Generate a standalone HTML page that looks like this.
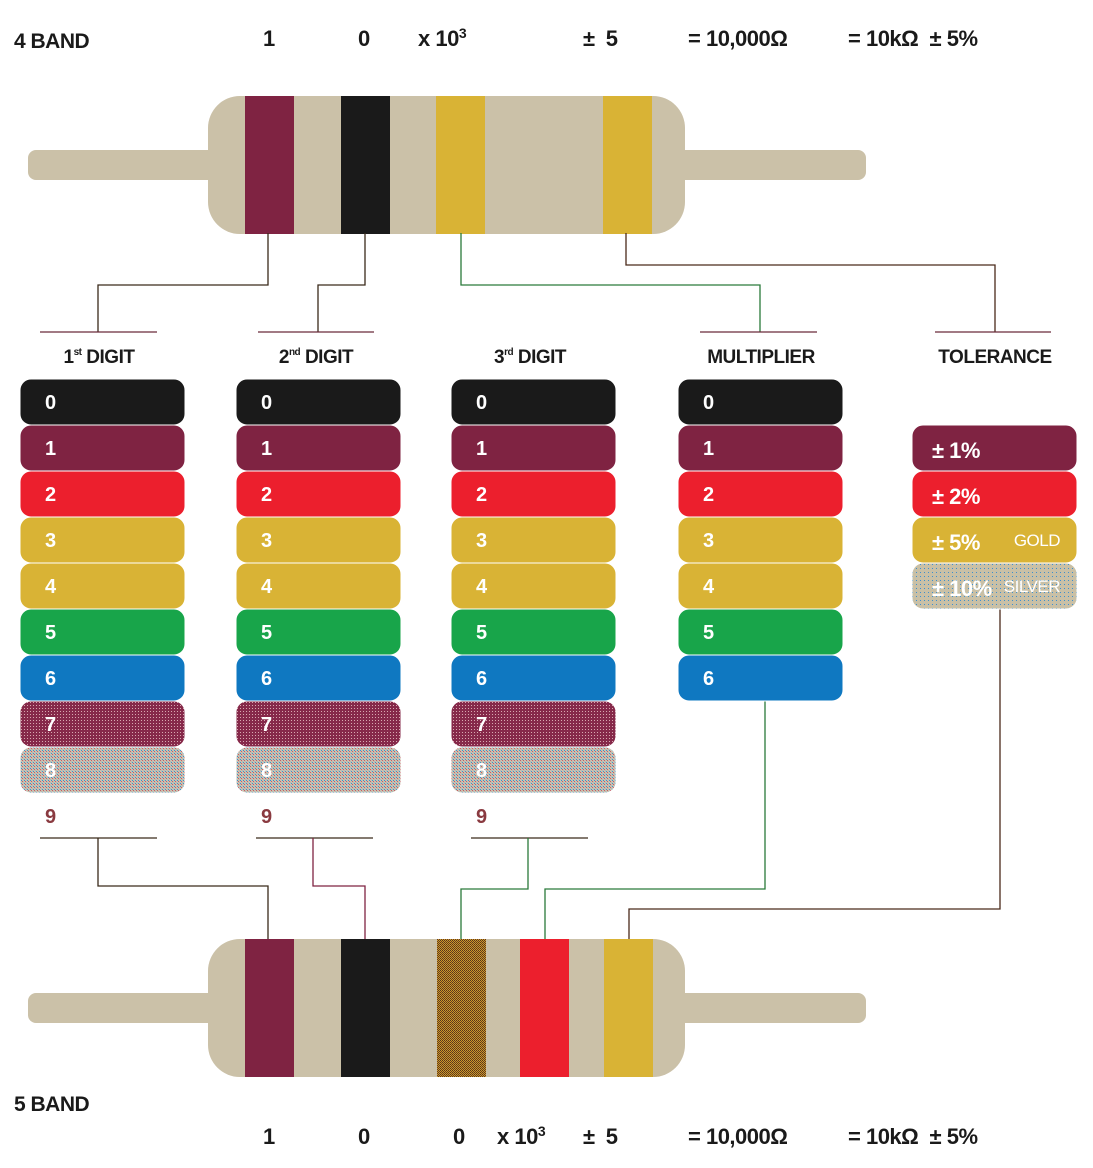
<!DOCTYPE html>
<html><head><meta charset="utf-8">
<style>
html,body{margin:0;padding:0;background:#fff;}
body{width:1093px;height:1168px;overflow:hidden;position:relative;font-family:"Liberation Sans",sans-serif;}
svg{position:absolute;left:0;top:0;}
text{font-family:"Liberation Sans",sans-serif;font-weight:bold;}
text.thin{font-weight:normal;}
</style></head>
<body>
<svg id="s" width="1093" height="1168" viewBox="0 0 1093 1168">
<defs>
<pattern id="violet" width="3" height="3" patternUnits="userSpaceOnUse"><rect width="3" height="3" fill="#86294a"/><rect width="1" height="1" fill="#d8a8b0"/></pattern>
<pattern id="grey" width="3" height="3" patternUnits="userSpaceOnUse"><rect width="3" height="3" fill="#cbc3ad"/><rect width="1" height="1" fill="#3c8fd0"/><rect x="1" y="1" width="1" height="1" fill="#c45a6a"/><rect x="2" y="2" width="1" height="1" fill="#a9b4c0"/></pattern>
<pattern id="silver" width="4" height="4" patternUnits="userSpaceOnUse"><rect width="4" height="4" fill="#c9c0a6"/><rect width="1" height="1" fill="#3c8fd0"/></pattern>
<pattern id="checker" width="2" height="2" patternUnits="userSpaceOnUse"><rect width="2" height="2" fill="#c99a2a"/><rect width="1" height="1" fill="#5a3318"/><rect x="1" y="1" width="1" height="1" fill="#6a3a20"/></pattern>
</defs>
<g id="top"></g>
</svg>
<script>
const digitLabels=["0","1","2","3","4","5","6","7","8"];
const digitColors=["#1a1a1a","#7f2342","#ec1f2d","#d9b335","#d9b335","#18a54a","#0f78c1","url(#violet)","url(#grey)"];
const multLabels=["0","1","2","3","4","5","6"];
const tolLabels=["± 1%","± 2%","± 5%","± 10%"];
const tolNames=["","","GOLD","SILVER"];
const tolColors=["#7f2342","#ec1f2d","#d9b335","url(#silver)"];
const band4Colors=["#7f2342","#1a1a1a","#d9b335","#d9b335"];
const band5Colors=["#7f2342","#1a1a1a","url(#checker)","#ec1f2d","#d9b335"];
const band4X=[245,341,436,603];
const band5X=[245,341,437,520,604];

const NS="http://www.w3.org/2000/svg";
const g=document.getElementById('top');
function el(tag,attrs,parent){const e=document.createElementNS(NS,tag);for(const k in attrs)e.setAttribute(k,attrs[k]);(parent||g).appendChild(e);return e;}
function txt(x,y,s,size,fill,anchor,name){const t=el('text',{x:x,y:y,'font-size':size,fill:fill,'text-anchor':anchor||'start','letter-spacing':'-0.5'});t.textContent=s;


return t;}

function resistor(y0,bandsX,colors,name){
  const lead=el('rect',{x:28,y:y0+54,width:838,height:30,rx:8,fill:"#cbc1a8"});
  
  
  const body=el('rect',{x:208,y:y0,width:477,height:138,rx:32,fill:"#cbc1a8"});
  
  
  bandsX.forEach((x,i)=>{const b=el('rect',{x:x,y:y0,width:49,height:138,fill:colors[i]});
    
    });
}
resistor(96,band4X,band4Colors,'four-band-resistor');
resistor(939,band5X,band5Colors,'five-band-resistor');

function path(d,stroke,name){const p=el('path',{d:d,stroke:stroke,'stroke-width':1.3,fill:'none'});
  
  }
path("M268 233V285H98V332","#3a2a1a",'connector-band1');
path("M365 233V285H318V332","#3a2a1a",'connector-band2');
path("M461 233V285H760V332","#2a7a3a",'connector-band3');
path("M626 233V265H995V332","#4a2a1a",'connector-band4');
[[40,157],[258,374],[700,817],[935,1051]].forEach((l,i)=>path(`M${l[0]} 332H${l[1]}`,"#6a2a3a",'header-line-'+(i+1)));
[[40,157],[256,373],[471,588]].forEach((l,i)=>path(`M${l[0]} 838H${l[1]}`,"#3a2a1a",'footer-line-'+(i+1)));
path("M98 838V886H268V939","#3a2a1a",'connector-5band-1');
path("M313 838V886H365V939","#7f2342",'connector-5band-2');
path("M528 838V889H461V939","#2a7a3a",'connector-5band-3');
path("M765 701V889H545V939","#2a7a3a",'connector-5band-4');
path("M1000 609V909H629V939","#4a2a1a",'connector-5band-5');

const hdr=[[99,"1","st"],[316,"2","nd"],[530,"3","rd"]];
hdr.forEach((h,i)=>{const t=el('text',{x:h[0],y:363,'font-size':19,fill:'#1a1a1a','text-anchor':'middle','letter-spacing':'-0.5'});
  
  
  t.innerHTML=h[1]+'<tspan font-size="10" dy="-8">'+h[2]+'</tspan><tspan dy="8"> DIGIT</tspan>';});
txt(761,363,"MULTIPLIER",19,'#1a1a1a','middle','multiplier-header');
txt(995,363,"TOLERANCE",19,'#1a1a1a','middle','tolerance-header');

function row(x,y,color,label,name){
  const r=el('rect',{x:x,y:y,width:165,height:46,rx:11,fill:color,stroke:'#fff','stroke-width':1});
  
  
  txt(x+25,y+30,label,20,'#fff','start',name+'-label');
}
[20,236,451].forEach((x,c)=>{
  digitLabels.forEach((l,i)=>row(x,379+46*i,digitColors[i],l,'digit'+(c+1)+'-row-'+l));
  txt(x+25,823,"9",20,'#8a3a40','start','digit'+(c+1)+'-nine');
});
multLabels.forEach((l,i)=>row(678,379+46*i,digitColors[i],l,'multiplier-row-'+l));
tolLabels.forEach((l,i)=>{
  row(912,425+46*i,tolColors[i],'',"tolerance-row-"+(i+1));
  txt(932,425+46*i+33,l,22,'#fff','start','tolerance-value-'+(i+1));
  if(tolNames[i]){const t=txt(1060,425+46*i+29,tolNames[i],17,'#fff','end','tolerance-name-'+(i+1));t.setAttribute('class','thin');}
});

txt(14,48,"4 BAND",21,'#1a1a1a','start','four-band-title');
txt(14,1111,"5 BAND",21,'#1a1a1a','start','five-band-title');
function eq(y,items,pre){items.forEach((it,i)=>{const t=txt(it[0],y,'',22,'#1a1a1a','start',pre+'-term-'+(i+1));t.innerHTML=it[1];});}
eq(46,[[263,"1"],[358,"0"],[418,"x 10<tspan font-size='14' dy='-8'>3</tspan>"],[583,"± &#160;5"],[688,"= 10,000Ω"],[848,"= 10kΩ &#160;± 5%"]],'four-band-equation');
eq(1144,[[263,"1"],[358,"0"],[453,"0"],[497,"x 10<tspan font-size='14' dy='-8'>3</tspan>"],[583,"± &#160;5"],[688,"= 10,000Ω"],[848,"= 10kΩ &#160;± 5%"]],'five-band-equation');
</script>
</body></html>
